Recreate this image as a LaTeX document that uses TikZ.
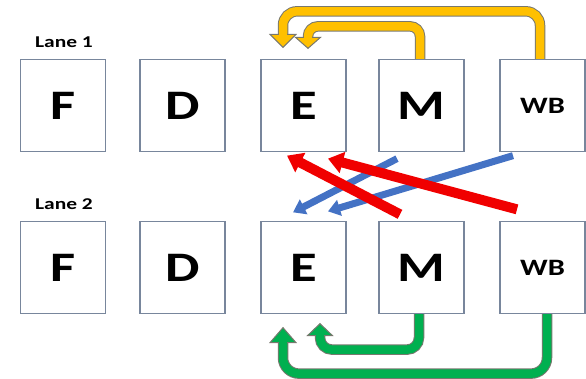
\documentclass[tikz,border=0pt]{standalone}
\usepackage{fontspec}
\setmainfont{Carlito}
\newfontfamily\widefont{Carlito}[FakeStretch=1.3]
\usetikzlibrary{arrows.meta,calc}

\definecolor{boxgray}{RGB}{120,134,156}
\definecolor{edgegray}{RGB}{120,120,110}
\definecolor{ylw}{RGB}{255,192,0}
\definecolor{grn}{RGB}{0,176,80}
\definecolor{rd}{RGB}{240,0,0}
\definecolor{blu}{RGB}{68,114,196}

\tikzset{
  stage/.style={draw=boxgray, line width=1.3pt, fill=white, minimum width=85pt,
    minimum height=92pt, inner sep=0pt, font=\widefont\bfseries\fontsize{42}{42}\selectfont},
  smallstage/.style={stage, font=\widefont\bfseries\fontsize{23.5}{23.5}\selectfont},
  lanelabel/.style={anchor=base, inner sep=0pt, font=\widefont\bfseries\fontsize{16.5}{16.5}\selectfont},
  shaft/.style={draw=#1, line width=8.5pt, rounded corners=14pt,
    preaction={draw=edgegray, line width=10.5pt}},
  head/.style={draw=edgegray, line width=1pt, fill=#1, line join=miter},
  plug/.style={draw=#1, line width=8.5pt},
  fwdred/.style={rd, line width=10pt, -{Triangle[width=21pt,length=15pt]}},
  fwdblue/.style={blu, line width=7pt, -{Triangle[width=16pt,length=12pt]}},
}

\begin{document}
\begin{tikzpicture}[x=1pt, y=1pt]
    \useasboundingbox (0,0) rectangle (586,379);

    \node[lanelabel] (lane1) at (64, 331.5) {Lane 1};
    \node[lanelabel] (lane2) at (64, 169.5) {Lane 2};

    % lane 1
    \node[stage] (F1) at (63, 273.5) {F};
    \node[stage] (D1) at (182.5, 273.5) {D};
    \node[stage] (E1) at (303.5, 273.5) {E};
    \node[stage] (M1) at (421.5, 273.5) {M};
    \node[smallstage] (WB1) at (542.5, 273.5) {WB};

    % lane 2
    \node[stage] (F2) at (63, 111.5) {F};
    \node[stage] (D2) at (182.5, 111.5) {D};
    \node[stage] (E2) at (303.5, 111.5) {E};
    \node[stage] (M2) at (421.5, 111.5) {M};
    \node[smallstage] (WB2) at (542.5, 111.5) {WB};

    % forwarding inside lane 1
    \coordinate (ytipWB) at ([xshift=-20.5pt,yshift=11.5pt]E1.north);
    \coordinate (ytipM) at ([xshift=4.5pt,yshift=10.5pt]E1.north);
    \draw[shaft=ylw] ([xshift=-2.5pt]WB1.north) -- ++(0,47.5) -| ($(ytipWB)+(0,13)$);
    \draw[head=ylw] (ytipWB) -- ++(-13,13) -- ++(26,0) -- cycle;
    \draw[plug=ylw] ($(ytipWB)+(0,14)$) -- ($(ytipWB)+(0,11)$);
    \draw[shaft=ylw, rounded corners=10pt] ([xshift=-1.5pt]M1.north) -- ++(0,32.5) -| ($(ytipM)+(0,11)$);
    \draw[head=ylw] (ytipM) -- ++(-12.5,11) -- ++(25,0) -- cycle;
    \draw[plug=ylw] ($(ytipM)+(0,12)$) -- ($(ytipM)+(0,9)$);

    % forwarding inside lane 2
    \coordinate (gtipWB) at ([xshift=-20.5pt,yshift=-13.5pt]E2.south);
    \coordinate (gtipM) at ([xshift=16.5pt,yshift=-9.5pt]E2.south);
    \draw[shaft=grn, rounded corners=16pt] ([xshift=4.5pt]WB2.south) -- ++(0,-59.5) -| ($(gtipWB)+(0,-15)$);
    \draw[head=grn] (gtipWB) -- ++(-13,-15) -- ++(26,0) -- cycle;
    \draw[plug=grn] ($(gtipWB)+(0,-16)$) -- ($(gtipWB)+(0,-13)$);
    \draw[shaft=grn, rounded corners=12pt] ([xshift=-2.5pt]M2.south) -- ++(0,-35.5) -| ($(gtipM)+(0,-12)$);
    \draw[head=grn] (gtipM) -- ++(-12.5,-12) -- ++(25,0) -- cycle;
    \draw[plug=grn] ($(gtipM)+(0,-13)$) -- ($(gtipM)+(0,-10)$);

    % lane 1 -> lane 2
    \draw[fwdblue] ([xshift=-24.5pt,yshift=-6.5pt]M1.south) -- ([xshift=-10.5pt,yshift=8.5pt]E2.north);
    \draw[fwdblue] ([xshift=-29.5pt,yshift=-3.5pt]WB1.south) -- ([xshift=24.5pt,yshift=9.5pt]E2.north);

    % lane 2 -> lane 1
    \draw[fwdred] ([xshift=-21.5pt,yshift=6.5pt]M2.north) -- ([xshift=-16.5pt,yshift=-3.5pt]E1.south);
    \draw[fwdred] ([xshift=-25.5pt,yshift=11.5pt]WB2.north) -- ([xshift=24.5pt,yshift=-6.5pt]E1.south);
\end{tikzpicture}
\end{document}
